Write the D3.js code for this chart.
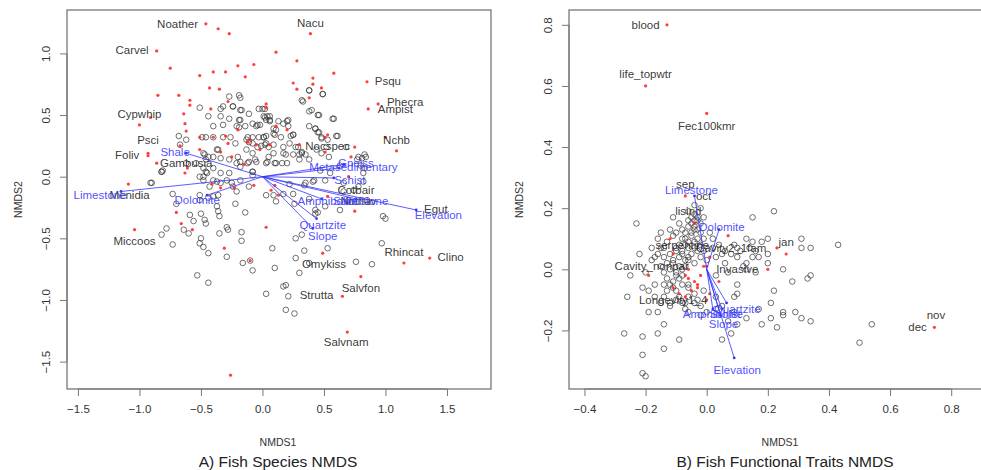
<!DOCTYPE html>
<html><head><meta charset="utf-8">
<script src="https://cdn.jsdelivr.net/npm/d3@7"></script>
<style>body{margin:0;background:#fff}svg{display:block;font-family:"Liberation Sans",Arial,sans-serif}</style>
</head><body><svg id="c" width="981" height="470"></svg>
<script>
// ---------- Panel A data (NMDS1, NMDS2) ----------
const leftSites = [
[-0.19,0.66],[-0.18,0.64],[-0.27,0.65],[-0.32,0.57],[-0.34,0.55],[-0.24,0.57],[-0.17,0.54],[-0.51,0.56],[-0.44,0.49],[-0.40,0.41],
[-0.34,0.49],[-0.32,0.42],[-0.19,0.46],[-0.19,0.40],[-0.11,0.51],[-0.03,0.55],[0.00,0.55],[0.04,0.49],[0.06,0.46],[-0.04,0.42],
[-0.02,0.42],[-0.68,0.33],[-0.49,0.32],[-0.46,0.32],[-0.40,0.32],[-0.32,0.32],[-0.26,0.32],[-0.62,0.30],[-0.12,0.32],[-0.11,0.28],
[-0.03,0.32],[0.01,0.32],[-0.01,0.25],[0.05,0.24],[-0.67,0.26],[-0.36,0.22],[-0.47,0.18],[-0.44,0.16],[-0.34,0.15],[-0.18,0.12],
[-0.21,0.11],[-0.11,0.12],[-0.06,0.14],[0.04,0.12],[-0.81,0.05],[-0.82,0.04],[-0.91,-0.05],[-0.48,0.07],[-0.45,0.03],[-0.51,0.00],
[-0.48,-0.03],[-0.08,0.04],[-0.08,0.01],[-0.40,-0.03],[-0.34,0.03],[-0.29,-0.03],[-0.18,-0.03],[-0.25,-0.05],
[0.38,0.70],[0.49,0.67],[0.33,0.61],[0.58,0.47],[0.40,0.54],[0.46,0.50],[0.02,0.55],[0.02,0.48],[0.06,0.45],[0.13,0.45],
[0.21,0.46],[0.21,0.41],[0.25,0.34],[0.23,0.33],[0.09,0.39],[0.10,0.34],[0.03,0.33],[0.43,0.39],[0.46,0.36],[0.48,0.31],
[0.61,0.33],[0.02,0.26],[0.09,0.26],[0.17,0.24],[0.27,0.24],[0.30,0.18],[0.25,0.18],[0.48,0.19],[0.54,0.16],[0.32,0.20],
[0.35,0.18],[0.05,0.16],[0.10,0.11],[0.16,0.11],[0.19,0.18],[0.78,0.16],[0.81,0.15],[0.84,0.16],[0.77,0.14],[0.35,-0.05],
[0.42,-0.03],[0.66,-0.05],
[0.63,0.09],[0.80,0.09],[0.82,0.03],[0.82,-0.04],[0.78,-0.08],[0.66,-0.12],[0.74,-0.11],[0.85,-0.19],[0.70,-0.19],[0.63,-0.27],
[0.45,-0.29],[0.43,-0.27],[0.51,-0.24],[0.25,-0.14],[0.26,-0.22],[0.38,-0.18],[0.34,-0.07],[0.41,-0.04],[0.51,-0.03],[0.47,0.05],
[0.55,0.03],[0.98,-0.32],[1.00,-0.34],[0.97,-0.54],[0.76,-0.69],[0.89,-0.71],[0.53,-0.58],[0.38,-0.70],[0.30,-0.78],[0.27,-0.66],
[0.34,-0.60],[0.27,-0.50],[0.32,-0.47],[0.43,-0.30],
[-0.14,-0.29],[-0.22,-0.22],[-0.21,-0.12],[-0.24,-0.08],[-0.11,-0.08],[-0.08,0.04],[-0.12,0.11],[-0.05,0.12],[-0.27,0.03],[-0.37,-0.04],
[-0.34,-0.05],[-0.36,-0.15],[-0.40,-0.16],[-0.44,-0.17],[-0.51,-0.15],[-0.43,-0.08],[-0.51,-0.19],[-0.50,-0.30],[-0.59,-0.31],[-0.64,-0.43],
[-0.60,-0.46],[-0.56,-0.36],[-0.47,-0.35],[-0.46,-0.38],[-0.37,-0.24],[-0.36,-0.28],[-0.35,-0.32],[-0.35,-0.46],[-0.29,-0.41],[-0.28,-0.43],
[-0.17,-0.45],[-0.17,-0.52],[-0.16,-0.70],[-0.10,-0.68],[-0.08,-0.76],[0.08,-0.58],[0.10,-0.74],[0.17,-0.89],[0.19,-0.88],[0.21,-0.97],
[0.03,-0.95],[0.19,-1.08],[0.26,-1.11],[-0.53,-0.80],[-0.44,-0.86],[-0.50,-0.50],[-0.51,-0.54],[-0.44,-0.62],[-0.48,-0.57],[-0.29,-0.65],
[-0.73,-0.14],[-0.82,-0.47],[-0.78,-0.42],[-0.90,-0.05],[-0.73,-0.55],[-0.70,-0.22],[-0.48,0.00],[-0.46,0.04],[-0.40,0.07],[-0.62,0.11],
[-0.54,0.11],[-0.82,0.04],[0.03,-0.15],[0.09,-0.15],[0.11,-0.20],[0.22,-0.06],[0.17,-0.14],
[-0.24,0.57],[-0.18,0.54],[-0.27,0.47],[-0.18,0.46],[-0.21,0.41],[-0.14,0.41],[-0.08,0.43],[-0.05,0.41],[0.01,0.49],[0.03,0.46],
[0.06,0.49],[0.11,0.38],[0.09,0.35],[0.17,0.43],[0.20,0.45],[0.15,0.32],[0.25,0.34],[0.22,0.27],[0.29,0.24],[0.32,0.19],
[0.30,0.14],[0.17,0.19],[0.09,0.19],[0.03,0.27],[-0.04,0.24],[-0.08,0.19],[-0.13,0.22],[-0.08,0.32],[0.01,0.32],[-0.08,0.27],
[-0.13,0.30],[-0.22,0.27],[-0.20,0.16],[-0.27,0.14],[-0.18,0.08],[0.03,0.11],[0.11,0.11],[0.20,0.11],[-0.37,0.22],[-0.40,0.16],
[-0.46,0.14],[-0.48,0.19],[0.38,0.41],[0.43,0.39],[0.45,0.36],[0.48,0.32],[0.53,0.30],[0.52,0.24],[0.44,0.22],[0.38,0.14],
[0.32,0.62],[0.38,0.53],[0.45,0.50],[0.49,0.67],[0.38,0.70],[0.57,0.47],[0.60,0.33],[0.68,0.24],[0.83,0.18],[0.83,0.07]
];
const leftSpecies = [
[-0.46,1.24],[-0.36,1.20],[-0.27,1.16],[-0.86,1.02],[0.11,1.01],[0.39,1.16],[0.28,0.94],[-0.07,0.91],[0.58,0.84],[-0.20,0.90],
[-0.75,0.88],[-0.51,0.82],[-0.40,0.85],[-0.30,0.85],[-0.14,0.81],[0.25,0.76],[0.41,0.80],[0.28,0.71],[0.41,0.75],[0.48,0.72],
[0.38,0.64],[0.85,0.77],[0.94,0.59],[0.86,0.55],[1.09,0.21],[1.00,0.32],[-0.85,0.66],[-0.68,0.66],[-0.59,0.62],[-0.59,0.58],
[-0.42,0.55],[-0.28,0.61],[-0.35,0.71],[-0.43,0.72],[0.03,0.59],[-1.00,0.42],[-0.91,0.48],[-0.64,0.51],[-0.63,0.43],[-0.62,0.37],
[-0.51,0.32],[-0.40,0.32],[-0.30,0.33],[-0.28,0.27],[-0.34,0.20],[-0.51,0.22],[-0.93,0.19],[-0.93,0.17],[-0.86,0.11],[-0.67,0.25],
[-0.63,0.03],[-1.09,-0.06],[-1.04,-0.43],[-0.70,-0.29],[-0.66,-0.38],[-0.57,-0.43],[-0.31,-0.58],[0.03,-0.41],[0.49,-0.62],[0.75,-0.28],
[0.80,-0.81],[1.15,-0.70],[1.36,-0.66],[0.65,-0.97],[0.69,-1.26],[-0.26,-1.61],[-0.12,0.28],[-0.05,0.26],[0.06,0.26],[0.11,0.41],
[0.20,0.38],[0.51,0.32],[0.75,0.24],[0.72,0.16],[0.53,0.34],[0.30,0.26],[0.51,0.20],[0.53,-0.16],[0.10,-0.07],[0.13,-0.15],
[-0.41,-0.06],[-0.34,-0.09],[-0.23,-0.09],[-0.07,-0.07],[0.07,-0.11],[-0.10,-0.68],[-0.61,0.07],[-0.10,0.30],[-0.02,0.22],[-0.25,0.16],
[-0.20,0.38],[-0.15,0.10],[0.03,0.56],[0.70,0.00]
];
const leftSpeciesLabels = [
["Noather",-0.69,1.24],["Nacu",0.39,1.25],["Carvel",-1.06,1.03],["Psqu",1.02,0.78],["Phecra",1.16,0.61],["Ampist",1.08,0.55],
["Cypwhip",-1.00,0.51],["Nchb",1.09,0.30],["Psci",-0.93,0.30],["Nocspec",0.53,0.25],["Foliv",-1.10,0.18],
["Gambusia",-0.62,0.11],["Menidia",-1.08,-0.15],["Miccoos",-1.04,-0.52],["Cotbair",0.76,-0.11],
["Notflav",0.78,-0.20],["Egut",1.41,-0.26],["Rhincat",1.15,-0.61],["Clino",1.53,-0.65],["Omykiss",0.50,-0.71],
["Salvfon",0.80,-0.90],["Strutta",0.44,-0.96],["Salvnam",0.68,-1.34]
];
// envfit vectors: name, arrow tip x, y, label x, y
const leftVectors = [
["Shale",-0.62,0.19,-0.71,0.20],["Limestone",-1.15,-0.12,-1.32,-0.15],["Dolomite",-0.45,-0.15,-0.53,-0.19],
["Gneiss",0.66,0.10,0.76,0.11],["Metasedimentary",0.62,0.07,0.74,0.08],["Schist",0.58,-0.01,0.71,-0.03],
["Sandstone",0.76,-0.18,0.80,-0.20],["Amphibolite",0.48,-0.18,0.53,-0.20],
["Elevation",1.25,-0.27,1.43,-0.31],["Quartzite",0.44,-0.34,0.49,-0.39],["Slope",0.41,-0.42,0.49,-0.48]
];
const leftXTicks = [-1.5,-1.0,-0.5,0.0,0.5,1.0,1.5];
const leftYTicks = [-1.5,-1.0,-0.5,0.0,0.5,1.0];

// ---------- Panel B data ----------
const rightSites = [
[-0.23,0.15],[0.22,0.19],[0.15,0.17],[0.31,0.10],[0.31,0.07],[0.34,0.07],[0.43,0.08],[0.34,-0.02],[0.33,-0.03],[0.28,-0.04],
[0.25,0.00],[0.22,-0.07],[0.21,-0.11],[0.25,-0.14],[0.25,-0.15],[0.29,-0.14],[0.31,-0.16],[0.34,-0.17],[0.23,-0.19],[0.21,-0.16],
[0.18,-0.18],[0.17,-0.13],[0.13,-0.16],[0.54,-0.18],[0.50,-0.24],[-0.26,-0.09],[-0.25,-0.02],[-0.21,-0.06],[-0.27,-0.21],[-0.21,-0.22],
[-0.19,-0.14],[-0.16,-0.21],[-0.14,-0.18],[-0.14,-0.26],[-0.09,-0.23],[-0.21,-0.28],[-0.21,-0.34],[-0.20,-0.35],[0.05,-0.23],[0.08,-0.21],
[0.10,-0.18],[0.09,-0.14],[0.09,-0.09],[0.10,-0.05],[0.10,-0.08],[0.20,0.02],[0.20,0.05],[0.18,0.09],[0.20,0.10],[0.17,0.04],
[0.15,0.04],[0.13,0.02],[0.13,0.00],[0.16,-0.01],[0.12,0.01],[0.10,0.04],[0.10,0.07],[0.09,0.08],[0.06,0.02],[0.07,-0.01],
[0.03,-0.02],[-0.11,0.17],[-0.09,0.15],[-0.12,0.13],[-0.11,0.11],[-0.16,0.10],[-0.14,0.07],[-0.17,0.04],[-0.14,0.04],[-0.15,0.01],
[-0.14,-0.01],[-0.17,-0.05],[-0.14,-0.05],[-0.13,-0.07],[-0.12,-0.05],[-0.10,-0.02],[-0.08,0.00],[-0.07,0.03],[-0.08,0.05],[-0.06,0.07],
[-0.07,0.10],[-0.05,0.12],[-0.06,0.16],[-0.04,0.18],[-0.03,0.13],[-0.01,0.10],[-0.03,0.06],[-0.02,0.04],[-0.10,0.07],[-0.09,0.01],
[-0.11,0.02],[-0.12,-0.11],[-0.08,-0.11],[-0.07,-0.11],[-0.06,-0.09],[-0.03,-0.10],[-0.01,-0.07],[-0.15,-0.11],[-0.17,-0.09],[-0.16,-0.14],
[-0.12,-0.12],[-0.07,-0.13],[-0.06,-0.14],[-0.02,-0.15],[0.00,-0.14],[0.03,-0.13],[0.05,-0.12],[0.07,-0.17],[0.03,-0.09],[-0.06,-0.06],
[-0.01,0.17],[-0.07,0.12],[-0.08,0.13],[-0.06,0.19],[-0.04,0.13],[0.00,0.03],[0.05,0.05],[0.13,0.10],[0.15,0.09],[-0.18,0.03],
[-0.16,0.05],[-0.20,-0.01],[-0.04,0.16],[-0.05,0.15],[-0.03,0.17],[-0.04,0.09],[-0.02,0.08],[-0.05,0.05],[-0.01,0.06],[-0.06,0.03],
[-0.04,0.02],[-0.09,-0.03],[-0.11,-0.04],[-0.10,-0.07],[-0.09,-0.09],[-0.04,-0.08],[-0.13,0.09],[-0.15,0.07],[0.04,0.08],[0.02,0.10],
[-0.05,0.17],[-0.03,0.16],[-0.02,0.15],[-0.04,0.14],[-0.06,0.14],[-0.02,0.12],[-0.05,0.11],[-0.03,0.10],[-0.08,0.10],[-0.06,0.09],
[-0.09,0.08],[-0.07,0.08],[-0.04,0.07],[-0.10,0.06],[-0.08,0.06],[-0.12,0.05],[-0.06,0.04],[-0.09,0.04],[-0.11,0.03],[-0.13,0.02],
[-0.07,0.01],[-0.12,0.00],[-0.10,-0.01],[-0.08,-0.02],[-0.13,-0.03],[-0.11,-0.06],[-0.08,-0.05],[-0.06,-0.05],[-0.14,-0.09],[-0.10,-0.10],
[-0.04,-0.11],[-0.02,-0.12],[0.02,0.07],[0.01,0.12],[0.03,0.04],[0.06,0.06],[0.08,0.05],[0.11,0.06],[0.14,0.07],[0.16,0.06],
[-0.02,0.20],[-0.04,0.21],[-0.15,0.12],[-0.18,0.07],[-0.19,-0.07],[-0.22,0.05],[-0.10,0.12]
];
const rightSpecies = [
[-0.13,0.80],[-0.20,0.60],[0.00,0.51],[0.745,-0.19],[-0.07,0.24],[-0.04,0.15],[-0.12,0.10],[0.07,0.11],[-0.11,0.05],[0.26,0.05],
[0.23,0.07],[0.20,0.00],[-0.19,-0.02],[-0.11,-0.06],[-0.09,-0.08],[-0.07,-0.09],[-0.06,-0.03],[-0.04,-0.04],[-0.03,-0.06],[-0.03,-0.05],
[-0.01,0.01],[0.00,0.01],[0.01,0.04],[0.04,-0.04],[0.01,-0.08],[0.00,-0.10],[-0.07,-0.02],[-0.02,-0.02],[-0.06,0.00],[-0.05,-0.07]
];
const rightSpeciesLabels = [
["blood",-0.20,0.80],["life_topwtr",-0.20,0.64],["Fec100kmr",0.00,0.47],["nov",0.75,-0.15],["dec",0.69,-0.19],
["sep",-0.07,0.28],["oct",-0.01,0.24],["lisind",-0.06,0.19],["serpentine",-0.08,0.08],
["Cavity2_1fam",0.08,0.07],["jan",0.26,0.09],["Cavity_nonpar",-0.18,0.01],["Invasive",0.10,0.00],
["Longevity1_4",-0.11,-0.10]
];
const rightVectors = [
["Limestone",-0.04,0.24,-0.05,0.26],["Dolomite",0.04,0.13,0.05,0.14],["Elevation",0.09,-0.29,0.10,-0.33],
["Quartzite",0.065,-0.11,0.10,-0.13],["Amphibolite",0.02,-0.13,0.02,-0.145],["Schist",0.05,-0.13,0.06,-0.145],
["Slope",0.045,-0.15,0.055,-0.18]
];
const rightXTicks = [-0.4,-0.2,0.0,0.2,0.4,0.6,0.8];
const rightYTicks = [-0.2,0.0,0.2,0.4,0.6,0.8];

// ---------- drawing ----------
const svg = d3.select("#c");
const fmt = d3.format(".1f");

function panel(o){
  const g = svg.append("g");
  const x = d3.scaleLinear().domain(o.xd).range([o.left, o.right]);
  const y = d3.scaleLinear().domain(o.yd).range([o.bottom, o.top]);
  const clipId = "clip"+o.id;
  svg.append("clipPath").attr("id",clipId).append("rect")
    .attr("x",o.left).attr("y",o.top).attr("width",o.right-o.left).attr("height",o.bottom-o.top);
  const pg = g.append("g").attr("clip-path","url(#"+clipId+")");
  pg.selectAll("circle.site").data(o.sites).join("circle").attr("class","site")
    .attr("cx",d=>x(d[0])).attr("cy",d=>y(d[1])).attr("r",2.8)
    .attr("fill","none").attr("stroke","#333").attr("stroke-opacity",0.7).attr("stroke-width",1);
  pg.selectAll("circle.sp").data(o.species).join("circle").attr("class","sp")
    .attr("cx",d=>x(d[0])).attr("cy",d=>y(d[1])).attr("r",1.6).attr("fill","#ff2a2a").attr("fill-opacity",0.9);
  pg.selectAll("text.sl").data(o.spLabels).join("text").attr("class","sl")
    .attr("x",d=>x(d[1])).attr("y",d=>y(d[2])).attr("dy","0.35em").attr("text-anchor","middle")
    .attr("font-size",11.5).attr("fill","#222").attr("fill-opacity",0.9).text(d=>d[0]);
  pg.selectAll("line.v").data(o.vectors).join("line").attr("class","v")
    .attr("x1",x(0)).attr("y1",y(0)).attr("x2",d=>x(d[1])).attr("y2",d=>y(d[2]))
    .attr("stroke","#3535ff").attr("stroke-opacity",0.8).attr("stroke-width",1);
  pg.selectAll("circle.vt").data(o.vectors).join("circle").attr("class","vt")
    .attr("cx",d=>x(d[1])).attr("cy",d=>y(d[2])).attr("r",1.4).attr("fill","#3535ff");
  pg.selectAll("text.vl").data(o.vectors).join("text").attr("class","vl")
    .attr("x",d=>x(d[3])).attr("y",d=>y(d[4])).attr("dy","0.35em").attr("text-anchor","middle")
    .attr("font-size",11.5).attr("fill","#3a3aff").attr("fill-opacity",0.9).text(d=>d[0]);
  g.append("rect").attr("x",o.left).attr("y",o.top).attr("width",o.right-o.left).attr("height",o.bottom-o.top)
    .attr("fill","none").attr("stroke","#777").attr("stroke-width",1.3);
  const xa = g.append("g").attr("transform",`translate(0,${o.bottom})`)
    .call(d3.axisBottom(x).tickValues(o.xt).tickFormat(fmt).tickSize(7).tickSizeOuter(0));
  xa.select(".domain").attr("stroke","#777").attr("d",`M${x(o.xt[0])},0H${x(o.xt[o.xt.length-1])}`);
  xa.selectAll(".tick line").attr("stroke","#777");
  xa.selectAll(".tick text").attr("font-size",11.5).attr("fill","#333").attr("y",16).attr("dy","0.71em");
  const ya = g.append("g").attr("transform",`translate(${o.left},0)`)
    .call(d3.axisLeft(y).tickValues(o.yt).tickFormat(fmt).tickSize(7).tickSizeOuter(0));
  ya.select(".domain").attr("stroke","#777").attr("d",`M0,${y(o.yt[0])}V${y(o.yt[o.yt.length-1])}`);
  ya.selectAll(".tick line").attr("stroke","#777");
  ya.selectAll(".tick text").attr("font-size",11.5).attr("fill","#333")
    .attr("x",null).attr("dy",null).attr("text-anchor","middle")
    .attr("transform","translate(-17,0) rotate(-90)");
  g.append("text").attr("x",o.xlabX).attr("y",446).attr("text-anchor","middle").attr("font-size",10.5).attr("fill","#333").text("NMDS1");
  g.append("text").attr("transform",`translate(${o.ylabX},${(o.top+o.bottom)/2}) rotate(-90)`)
    .attr("text-anchor","middle").attr("font-size",10.5).attr("fill","#333").text("NMDS2");
  g.append("text").attr("x",o.titleX).attr("y",467).attr("text-anchor","middle").attr("font-size",15.5).attr("fill","#222").text(o.title);
}

panel({id:"A", left:67, right:491, top:10, bottom:389,
  xd:[-1.589,1.858], yd:[-1.722,1.352], xt:leftXTicks, yt:leftYTicks,
  sites:leftSites, species:leftSpecies, spLabels:leftSpeciesLabels, vectors:leftVectors,
  xlabX:278, ylabX:22, titleX:278, title:"A) Fish Species NMDS"});
panel({id:"B", left:569, right:1000, top:10, bottom:389,
  xd:[-0.4506,0.9597], yd:[-0.3917,0.8485], xt:rightXTicks, yt:rightYTicks,
  sites:rightSites, species:rightSpecies, spLabels:rightSpeciesLabels, vectors:rightVectors,
  xlabX:780, ylabX:523, titleX:785, title:"B) Fish Functional Traits NMDS"});
</script></body></html>
